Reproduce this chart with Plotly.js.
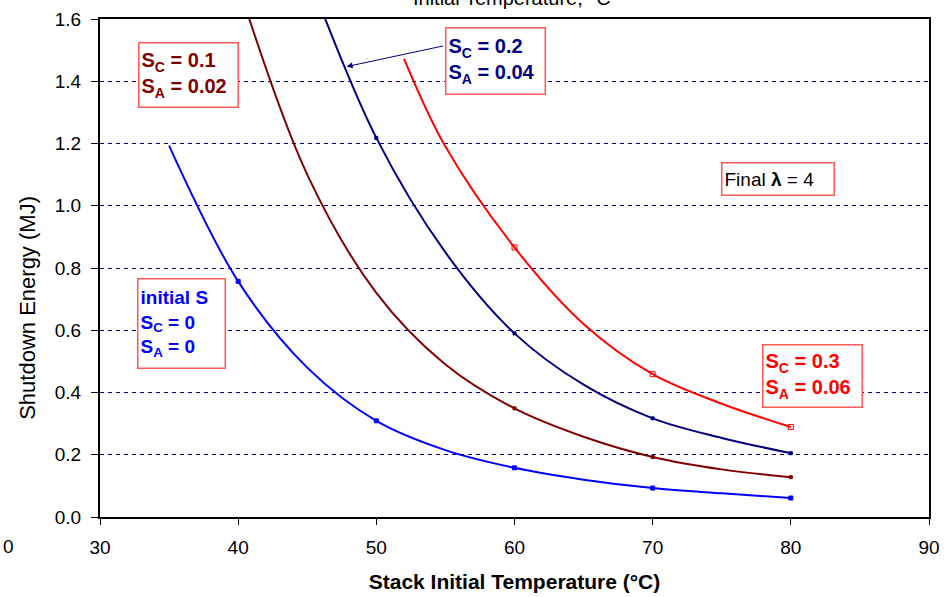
<!DOCTYPE html>
<html>
<head>
<meta charset="utf-8">
<script src="https://cdn.plot.ly/plotly-3.0.1.min.js"></script>
<style>
  html, body { margin: 0; padding: 0; background: #ffffff; }
  #chart { width: 950px; height: 597px; }
</style>
</head>
<body>
<div id="chart"></div>
<script>
// ---- Data (stack temperature °C, energy MJ) ----
// initial S (Sc = 0, Sa = 0)
const blueT = [35, 40, 45, 50, 55, 60, 65, 70, 75, 80];
const blueE = [1.193, 0.757, 0.48, 0.309, 0.215, 0.158, 0.12, 0.093, 0.076, 0.061];
const blueMarkT = [40, 50, 60, 70, 80];
const blueMarkE = [0.757, 0.309, 0.158, 0.093, 0.061];

// Sc = 0.1, Sa = 0.02 (first point lies above the visible range)
const darkRedT = [40, 45, 50, 55, 60, 65, 70, 75, 80];
const darkRedE = [1.71, 1.10, 0.72, 0.49, 0.349, 0.258, 0.193, 0.153, 0.128];
const darkRedMarkT = [60, 70, 80];
const darkRedMarkE = [0.349, 0.193, 0.128];

// Sc = 0.2, Sa = 0.04 (first point lies above the visible range)
const navyT = [45, 50, 55, 60, 65, 70, 75, 80];
const navyE = [1.75, 1.218, 0.85, 0.59, 0.425, 0.317, 0.254, 0.205];
const navyMarkT = [50, 60, 70, 80];
const navyMarkE = [1.218, 0.59, 0.317, 0.205];

// Sc = 0.3, Sa = 0.06
const redT = [52, 55, 60, 65, 70, 75, 80];
const redE = [1.473, 1.19, 0.866, 0.62, 0.459, 0.364, 0.289];
const redMarkT = [60, 70, 80];
const redMarkE = [0.866, 0.459, 0.289];

const xTicks = [30, 40, 50, 60, 70, 80, 90];
const yTicks = [0.0, 0.2, 0.4, 0.6, 0.8, 1.0, 1.2, 1.4, 1.6];
const yTickText = ['0.0', '0.2', '0.4', '0.6', '0.8', '1.0', '1.2', '1.4', '1.6'];

// Arrow target on the Sc = 0.2 curve
const arrowT = 47.85;
const arrowE = 1.447;

const FONT = 'Liberation Sans, Arial, sans-serif';

function lineTrace(x, y, color, name) {
  return { x: x, y: y, mode: 'lines', type: 'scatter', name: name,
           line: { color: color, width: 2, shape: 'spline', smoothing: 1.0 },
           hoverinfo: 'x+y', showlegend: false };
}
function markTrace(x, y, color, name, symbol, size) {
  return { x: x, y: y, mode: 'markers', type: 'scatter', name: name,
           marker: { symbol: symbol, size: size, color: color,
                     line: { color: color, width: 1 } },
           hoverinfo: 'x+y', showlegend: false };
}

const data = [
  lineTrace(blueT, blueE, '#0000ff', 'initial S'),
  markTrace(blueMarkT, blueMarkE, '#0000ff', 'initial S', 'square', 4),
  lineTrace(darkRedT, darkRedE, '#800000', 'Sc=0.1'),
  markTrace(darkRedMarkT, darkRedMarkE, '#800000', 'Sc=0.1', 'square', 3),
  lineTrace(navyT, navyE, '#000080', 'Sc=0.2'),
  markTrace(navyMarkT, navyMarkE, '#000080', 'Sc=0.2', 'square', 3),
  lineTrace(redT, redE, '#ff0000', 'Sc=0.3'),
  markTrace(redMarkT, redMarkE, '#ff0000', 'Sc=0.3', 'square-open', 5)
];

const boxStyle = { bordercolor: '#ff5a5a', borderwidth: 1.5, bgcolor: '#ffffff',
                   showarrow: false, xref: 'paper', yref: 'paper', align: 'left',
                   xanchor: 'center', yanchor: 'middle', borderpad: 2 };

const annotations = [
  Object.assign({}, boxStyle, { x: 0.1062, y: 0.888, width: 94, height: 59,
    text: 'S<sub>C</sub> = 0.1<br>S<sub>A</sub> = 0.02',
    font: { family: FONT, size: 20, color: '#800000', weight: 'bold' } }),
  Object.assign({}, boxStyle, { x: 0.4765, y: 0.916, width: 94, height: 61,
    text: 'S<sub>C</sub> = 0.2<br>S<sub>A</sub> = 0.04',
    font: { family: FONT, size: 20, color: '#000080', weight: 'bold' } }),
  Object.assign({}, boxStyle, { x: 0.818, y: 0.678, width: 107, height: 27,
    text: 'Final <b>λ</b> = 4',
    font: { family: FONT, size: 19, color: '#000000' } }),
  Object.assign({}, boxStyle, { x: 0.0987, y: 0.389, width: 82, height: 84,
    text: 'initial S<br>S<sub>C</sub> = 0<br>S<sub>A</sub> = 0',
    font: { family: FONT, size: 19, color: '#0000ff', weight: 'bold' } }),
  Object.assign({}, boxStyle, { x: 0.859, y: 0.2825, width: 94, height: 57,
    text: 'S<sub>C</sub> = 0.3<br>S<sub>A</sub> = 0.06',
    font: { family: FONT, size: 20, color: '#ff0000', weight: 'bold' } }),
  { x: arrowT, y: arrowE, xref: 'x', yref: 'y', text: '', showarrow: true,
    ax: 98, ay: -21, arrowcolor: '#000080', arrowwidth: 1, arrowhead: 2, arrowsize: 1.2 },
  // chart title, cut off by the top edge as in the reference
  { x: 0.497, y: 1.017, xref: 'paper', yref: 'paper', xanchor: 'center', yanchor: 'bottom',
    showarrow: false, text: 'Initial Temperature, °C',
    font: { family: FONT, size: 20, color: '#000000' } },
  // y-axis title
  { x: -0.0869, y: 0.42, xref: 'paper', yref: 'paper', xanchor: 'center', yanchor: 'middle',
    showarrow: false, textangle: -90, text: 'Shutdown Energy (MJ)',
    font: { family: FONT, size: 22, color: '#000000' } },
  // stray tick label at the left edge
  { x: -0.12, y: -0.035, xref: 'paper', yref: 'paper', xanchor: 'left', yanchor: 'top',
    showarrow: false, text: '0', font: { family: FONT, size: 19, color: '#000000' } }
];

const layout = {
  width: 950, height: 597,
  margin: { l: 100, r: 21, t: 19, b: 80 },
  paper_bgcolor: '#ffffff', plot_bgcolor: '#ffffff',
  font: { family: FONT, size: 18, color: '#000000' },
  xaxis: {
    range: [30, 90], tickvals: xTicks, ticktext: xTicks.map(String),
    showgrid: false, zeroline: false,
    showline: true, linecolor: '#000000', linewidth: 2, mirror: true,
    ticks: 'outside', ticklen: 6, tickcolor: '#000000', tickwidth: 1,
    ticklabelstandoff: 6,
    tickfont: { family: FONT, size: 19, color: '#000000' },
    title: { text: 'Stack Initial Temperature (°C)', standoff: 18,
             font: { family: FONT, size: 21, color: '#000000', weight: 'bold' } }
  },
  yaxis: {
    range: [0, 1.6], tickvals: yTicks, ticktext: yTickText,
    showgrid: true, gridcolor: '#000080', gridwidth: 1, griddash: '4px,4px',
    zeroline: false,
    showline: true, linecolor: '#000000', linewidth: 2, mirror: true,
    ticks: 'outside', ticklen: 7, tickcolor: '#000000', tickwidth: 1,
    ticklabelstandoff: 6,
    tickfont: { family: FONT, size: 19, color: '#000000' }
  },
  annotations: annotations,
  showlegend: false
};

Plotly.newPlot('chart', data, layout, { displayModeBar: false, staticPlot: true });
</script>
</body>
</html>
